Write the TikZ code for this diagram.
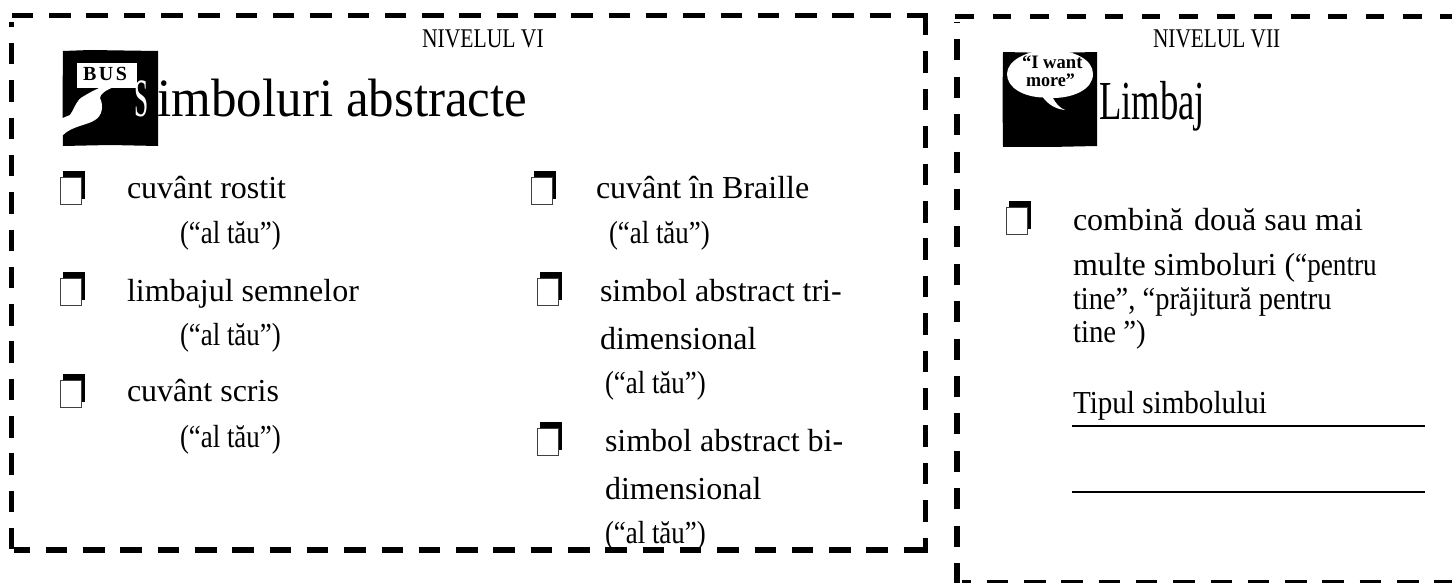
\documentclass[tikz,border=0pt]{standalone}
\usepackage{graphicx}
\usepackage{fontspec}
\setmainfont{Liberation Serif}
\newcommand{\hs}[2]{\scalebox{#1}[1]{#2}}
\tikzset{x=1pt,y=-1pt,
  tx/.style={anchor=base west,inner sep=0pt,outer sep=0pt,font=\fontsize{32}{32}\selectfont},
  dashA/.style={line width=5.2pt,dash pattern=on 21.5pt off 15.8pt,line cap=butt},
  dashB/.style={line width=5pt,dash pattern=on 18.5pt off 18.8pt,line cap=butt},
  ink/.style={fill=black,draw=none}}
\newcommand{\chk}[3]{%
  \fill[black] (#2+3,#3-6) rectangle (#2+25,#3+22);
  \node[draw=black!75,fill=white,line width=1pt,minimum width=20.5pt,minimum height=27pt,inner sep=0pt,anchor=north west] (#1) at (#2+.3,#3) {};}
\begin{document}
\begin{tikzpicture}
\useasboundingbox (0,0) rectangle (1452,583);
\fill[white] (0,0) rectangle (1452,583);
% left panel
\coordinate (la) at (9.5,15.7); \coordinate (lb) at (928,15.7);
\coordinate (lc) at (11.7,22); \coordinate (ld) at (11.7,552);
\coordinate (le) at (14,550); \coordinate (lf) at (925,550); \coordinate (lf2) at (928,550);
\coordinate (lg) at (925.7,14); \coordinate (lh) at (925.7,548);
\draw[dashA,dash phase=35pt] (la) -- (lb);
\draw[dashA,dash phase=16.3pt] (lc) -- (ld);
\draw[dashA,dash phase=5.5pt] (le) -- (lf);
\draw[line width=5.2pt] (lf) -- (lf2);
\draw[dashA,dash pattern=on 21.5pt off 15.9pt] (lg) -- (lh);
% right panel
\coordinate (ra) at (955.4,16.7); \coordinate (rb) at (1452,16.7);
\coordinate (rc) at (957,22); \coordinate (rd) at (957,583);
\coordinate (re) at (961.7,582.5); \coordinate (rf) at (1452,582.5);
\draw[dashB] (ra) -- (rb);
\draw[dashA,dash pattern=on 21pt off 16.4pt,dash phase=20pt] (rc) -- (rd);
\draw[dashA,line width=4.5pt,dash phase=12.3pt] (re) -- (rf);
% icon 1
\path[ink] (63,51) -- (90,50) -- (158,51) -- (158,146) -- (110,145) -- (63,146) -- (62.5,100) -- cycle;
\node[fill=white,inner sep=0pt,minimum width=60pt,minimum height=25pt,anchor=north west] (busbox) at (77,63) {};
\node[tx,font=\bfseries\fontsize{20}{20}\selectfont] (bus) at (83,81) {B\hspace{2.5pt}U\hspace{2.5pt}S};
\path[fill=white] (58,120) -- (70,115) .. controls (76,106) and (76,100) .. (84,96) .. controls (94,90) and (104,85) .. (114,84) -- (114,87) .. controls (106,90) and (100,94) .. (100,98) .. controls (104,106) and (102,116) .. (95,120) .. controls (88,125) and (72,126) .. (63,135) -- (61,135) -- (61,121) -- cycle;
\node[tx,text=white,font=\fontsize{54}{54}\selectfont] (sS) at (134.5,117) {\hs{.47}{S}};
\node[tx,font=\fontsize{54}{54}\selectfont] (title1) at (157.5,117) {\hs{.945}{imboluri abstracte}};
\node[tx,font=\fontsize{27}{27}\selectfont] (niv6) at (422,48) {\hs{.8}{NIVELUL VI}};
% icon 2
\path[ink] (1003,52) -- (1050,53) -- (1097,52) -- (1097,146) -- (1050,147) -- (1003,147) -- (1002.5,100) -- cycle;
\path[fill=white] (1007,74) .. controls (1007,60) and (1028,50) .. (1050,50) .. controls (1075,50) and (1093,60) .. (1093,74) .. controls (1093,90) and (1072,98) .. (1053,98) .. controls (1056,104) and (1060,108) .. (1065,110) .. controls (1055,109) and (1048,104) .. (1043,97.5) .. controls (1024,97) and (1007,88) .. (1007,74) -- cycle;
\node[tx,font=\bfseries\fontsize{19}{19}\selectfont] (want) at (1022,69) {\hs{.98}{“I want}};
\node[tx,font=\bfseries\fontsize{19}{19}\selectfont] (more) at (1026,87) {\hs{.95}{more”}};
\node[tx,font=\fontsize{55}{55}\selectfont] (title2) at (1099,120) {\hs{.667}{Limbaj}};
\node[tx,font=\fontsize{27}{27}\selectfont] (niv7) at (1153,48) {\hs{.79}{NIVELUL VII}};
% left column
\chk{b1}{60}{177}
\node[tx] (t1) at (127,199) {cuvânt rostit};
\node[tx] (t1a) at (180,243) {\hs{.84}{(“al tău”)}};
\chk{b2}{60}{278}
\node[tx] (t2) at (127,301) {limbajul semnelor};
\node[tx] (t2a) at (180,345) {\hs{.84}{(“al tău”)}};
\chk{b3}{60}{380}
\node[tx] (t3) at (127,401) {cuvânt scris};
\node[tx] (t3a) at (180,447) {\hs{.84}{(“al tău”)}};
% middle column
\chk{b4}{531}{177}
\node[tx] (t4) at (596,199) {cuvânt în Braille};
\node[tx] (t4a) at (609,243) {\hs{.84}{(“al tău”)}};
\chk{b5}{537}{278}
\node[tx] (t5) at (600,301) {simbol abstract tri-};
\node[tx] (t5b) at (600,349) {dimensional};
\node[tx] (t5a) at (605,393) {\hs{.84}{(“al tău”)}};
\chk{b6}{537}{428}
\node[tx] (t6) at (605,451) {simbol abstract bi-};
\node[tx] (t6b) at (605,499) {dimensional};
\node[tx] (t6a) at (605,543) {\hs{.84}{(“al tău”)}};
% right column
\chk{b7}{1006}{207}
\node[tx] (r1) at (1073,230) {combină\hspace{3pt} două sau mai};
\node[tx] (r2) at (1073,275) {multe simboluri (\hs{.85}{“pentru}};
\node[tx] (r3) at (1073,309) {\hs{.89}{tine”, “prăjitură pentru}};
\node[tx] (r4) at (1073,342) {\hs{.9}{tine ”)}};
\node[tx] (r5) at (1073,413) {\hs{.91}{Tipul simbolului}};
\coordinate (l1a) at (1072,426); \coordinate (l1b) at (1425,426);
\coordinate (l2a) at (1072,492); \coordinate (l2b) at (1425,492);
\draw[line width=1.8pt] (l1a) -- (l1b);
\draw[line width=1.8pt] (l2a) -- (l2b);
\end{tikzpicture}
\end{document}
